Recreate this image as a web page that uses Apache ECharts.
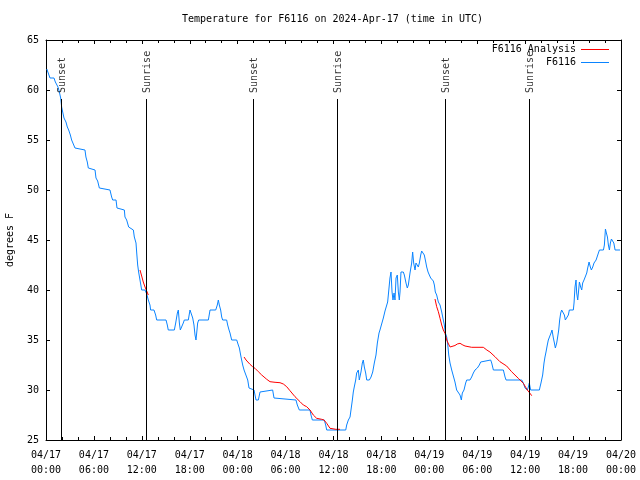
<!DOCTYPE html>
<html><head><meta charset="utf-8">
<script src="https://cdn.jsdelivr.net/npm/echarts@6/dist/echarts.min.js"></script>
<style>html,body{margin:0;padding:0;background:#fff}#c{width:640px;height:480px}</style>
</head><body><div id="c"></div>
<script>
// ---- data (hours since 2024-04-17 00:00 UTC) ----
const xTickLabels = ['04/17\n00:00','04/17\n06:00','04/17\n12:00','04/17\n18:00','04/18\n00:00','04/18\n06:00','04/18\n12:00','04/18\n18:00','04/19\n00:00','04/19\n06:00','04/19\n12:00','04/19\n18:00','04/20\n00:00'];

const blueHours = [0.1,0.5,1.0,1.17,1.38,1.5,1.67,1.84,1.96,2.09,2.25,2.5,2.67,2.84,3.05,3.21,3.46,3.63,3.76,4.88,5.0,5.17,5.3,6.14,6.26,6.47,6.68,6.8,8.01,8.22,8.35,8.77,8.89,9.81,9.89,10.1,10.35,10.52,10.94,11.06,11.27,11.36,11.48,11.6,11.77,11.98,12.4,12.61,12.81,13.02,13.1,13.52,13.73,13.86,15.03,15.19,15.31,16.07,16.24,16.45,16.57,16.7,16.82,17.03,17.19,17.32,17.82,18.03,18.24,18.37,18.53,18.66,18.78,18.87,18.99,19.12,20.33,20.54,21.25,21.45,21.58,21.7,21.87,22.0,22.12,22.62,22.75,22.92,23.04,23.25,23.88,24.08,24.21,24.42,24.63,24.8,25.05,25.26,25.42,25.54,26.05,26.17,26.3,26.59,26.8,26.92,28.38,28.55,28.68,31.3,31.47,31.72,33.06,33.18,33.35,34.85,35.02,35.15,37.53,37.65,37.86,38.07,38.19,38.36,38.48,38.6,38.78,38.9,39.11,39.23,39.44,39.61,39.73,39.86,40.03,40.16,40.49,40.7,40.91,41.11,41.32,41.49,41.7,41.82,42.04,42.24,42.45,42.66,42.78,42.95,43.07,43.2,43.33,43.45,43.58,43.7,43.83,43.99,44.12,44.24,44.33,44.45,44.62,44.74,44.87,45.08,45.24,45.37,45.58,45.79,45.91,46.04,46.21,46.33,46.49,46.62,46.75,46.92,47.04,47.25,47.37,47.55,47.67,47.84,48.0,48.17,48.3,48.5,48.63,48.75,48.92,49.13,49.34,49.55,49.75,49.88,50.01,50.18,50.3,50.43,50.59,50.8,51.01,51.21,51.42,51.63,51.84,52.01,52.13,52.34,52.55,52.68,53.09,53.3,53.51,53.72,54.01,54.26,54.43,54.68,55.68,55.81,56.02,57.27,57.48,57.61,59.57,59.77,59.98,60.11,60.27,60.4,60.52,60.61,60.69,61.78,61.86,61.98,62.19,62.36,62.48,62.61,62.77,62.9,63.11,63.24,63.36,63.53,63.66,63.78,63.95,64.07,64.2,64.32,64.45,64.57,64.78,64.91,65.03,65.24,65.41,65.53,66.03,66.12,66.24,66.37,66.45,66.58,66.7,66.79,66.95,67.08,67.2,67.37,67.54,67.71,67.83,68.0,68.16,68.29,68.46,68.62,68.88,69.09,69.17,69.3,69.8,69.92,70.05,70.17,70.3,70.42,70.55,70.67,70.8,70.97,71.1,71.26,71.88];
const blueTemps = [62.1,61.2,61.2,60.8,60.7,60.3,59.8,59.2,58.3,57.8,57.2,56.8,56.3,56.0,55.5,55.0,54.8,54.2,54.0,54.0,53.3,52.8,52.2,52.0,51.2,50.9,50.2,50.0,50.0,49.3,49.0,49.0,48.2,48.0,47.3,47.0,46.3,46.1,46.0,45.3,44.7,43.7,42.5,41.8,41.0,40.0,40.0,39.6,39.0,38.5,38.0,38.0,37.5,37.0,37.0,36.5,36.0,36.0,36.7,37.7,38.0,36.7,36.0,36.2,36.7,37.0,37.0,38.0,38.0,37.2,36.5,35.5,35.0,35.7,36.7,37.0,37.0,38.0,38.0,38.5,39.0,38.5,38.0,37.3,37.0,37.0,36.5,36.0,35.7,35.0,35.0,34.5,34.2,33.3,32.5,32.0,31.8,31.0,30.2,30.0,30.0,29.5,29.0,29.0,29.8,30.0,30.0,29.2,29.0,29.0,28.5,28.0,28.0,27.5,27.0,27.0,26.5,26.0,26.0,26.5,27.0,27.3,28.0,29.0,29.8,30.3,31.0,31.7,32.0,31.0,31.8,32.7,33.0,32.3,31.7,31.0,31.0,31.3,31.8,32.7,33.5,34.7,35.7,36.0,36.2,37.2,37.9,38.0,38.8,40.2,41.2,41.8,39.8,39.0,39.7,39.0,41.2,41.5,39.8,39.0,39.8,41.8,42.0,41.8,41.5,40.7,40.2,40.5,41.7,42.7,43.8,42.7,42.0,42.7,42.8,42.3,42.7,43.5,43.9,43.9,43.5,42.8,42.3,41.8,41.5,41.2,41.0,40.9,40.5,39.8,39.5,38.8,38.5,37.8,37.0,36.5,35.7,35.3,34.6,33.5,32.7,32.0,31.8,30.8,30.0,29.9,29.5,29.0,29.7,30.0,30.7,31.0,31.0,31.3,31.7,32.0,32.2,32.5,32.8,33.0,33.0,32.7,32.0,32.0,31.3,31.0,31.0,30.7,30.2,30.0,30.0,30.3,30.7,30.3,30.0,30.0,30.3,30.7,31.5,32.7,33.3,33.8,34.5,35.0,35.2,35.7,36.0,35.2,34.7,34.2,34.7,35.3,36.0,37.0,37.7,38.0,38.0,37.5,37.0,37.0,37.5,38.0,38.0,38.7,40.3,41.0,39.7,39.0,40.0,40.8,40.3,40.0,40.7,41.0,41.0,41.7,42.2,42.8,42.3,42.0,42.3,42.7,43.0,43.2,43.7,44.0,44.0,44.5,46.1,45.7,45.3,44.5,44.0,44.7,45.1,45.1,44.7,44.0,44.0];

// analysis series: null separates segments
const redHours = [11.77,11.98,12.18,12.4,12.61,12.81, 18.0, 24.8,25.05,25.3,25.54,25.87,26.17,26.59,27.01,27.64,28.05,28.68,29.3,29.72,30.14,30.55,31.18,31.81,32.22,32.64,33.06,33.47,33.89,34.52,34.81,35.15,35.56,35.69,36.3,36.81, 42.0, 48.71,48.92,49.13,49.34,49.55,49.75,49.96,50.18,50.4,50.6,50.8,51.21,51.5,51.84,52.2,52.47,53.3,54.76,55.2,55.59,56.22,56.84,57.68,58.3,59.14,59.77,60.27,60.61,60.82];
const redTemps = [42.0,41.4,40.8,40.3,39.9,39.5, null, 33.3,33.0,32.8,32.57,32.33,32.17,31.83,31.5,31.07,30.83,30.77,30.73,30.6,30.33,29.93,29.33,28.83,28.5,28.33,28.0,27.5,27.17,27.07,27.0,26.67,26.17,26.0,26.07,26.07, null, 39.1,38.33,37.83,37.17,36.5,36.0,35.67,35.0,34.6,34.3,34.27,34.45,34.6,34.67,34.5,34.4,34.27,34.27,34.0,33.8,33.33,32.83,32.4,31.83,31.17,30.67,30.0,29.67,29.43];

const sunHours = [1.93, 12.55, 25.95, 36.5, 49.97, 60.48];
const sunLabels = ['Sunset','Sunrise','Sunset','Sunrise','Sunset','Sunrise'];

const yMin = 25, yMax = 65, yStep = 5;
const xMin = 0, xMax = 72, xStep = 6;

// ---- chart ----
const FONT = 'DejaVu Sans Mono';
const SUN_LINE_TOP = 59.1;   // where the vertical lines stop
const SUN_LABEL_BASE = 59.7; // where the rotated labels start

const blueData = blueHours.map((h, i) => [h, blueTemps[i]]);
const redData = redHours.map((h, i) => [h, redTemps[i] === null ? '-' : redTemps[i]]);

const chart = echarts.init(document.getElementById('c'), null, {renderer: 'canvas'});

const axisCommon = {
  axisLine: {show: true, onZero: false, lineStyle: {color: '#000', width: 1}},
  splitLine: {show: false}
};

chart.setOption({
  animation: false,
  backgroundColor: '#fff',
  title: {
    text: 'Temperature for F6116 on 2024-Apr-17 (time in UTC)',
    left: 182, top: 14, padding: 0,
    textStyle: {fontFamily: FONT, fontSize: 10, fontWeight: 'normal', color: '#000'}
  },
  legend: {
    data: [
      {name: 'F6116 Analysis', icon: 'rect', itemStyle: {color: '#ff0000'}},
      {name: 'F6116', icon: 'rect', itemStyle: {color: '#0a84ff'}}
    ],
    orient: 'vertical', align: 'right',
    right: 31, top: 43, padding: 0,
    itemWidth: 28, itemHeight: 1, itemGap: 0,
    textStyle: {fontFamily: FONT, fontSize: 10, color: '#000', lineHeight: 13}
  },
  grid: {left: 46, right: 19, top: 40, bottom: 40, containLabel: false, outerBoundsMode: 'none'},
  xAxis: [
    Object.assign({}, axisCommon, {
      type: 'value', min: xMin, max: xMax, interval: xStep, position: 'bottom',
      axisTick: {show: true, inside: true, length: 4, lineStyle: {color: '#000'}},
      minorTick: {show: true, splitNumber: 3, length: 3, lineStyle: {color: '#000'}},
      axisLabel: {
        show: true, margin: 8, fontFamily: FONT, fontSize: 10, color: '#000', lineHeight: 15,
        showMinLabel: true, showMaxLabel: true, hideOverlap: false,
        formatter: v => xTickLabels[Math.round((v - xMin) / xStep)] || ''
      }
    }),
    Object.assign({}, axisCommon, {
      type: 'value', min: xMin, max: xMax, interval: xStep, position: 'top',
      axisTick: {show: true, inside: true, length: 4, lineStyle: {color: '#000'}},
      minorTick: {show: true, splitNumber: 3, length: 3, lineStyle: {color: '#000'}},
      axisLabel: {show: false}
    })
  ],
  yAxis: [
    Object.assign({}, axisCommon, {
      type: 'value', min: yMin, max: yMax, interval: yStep, position: 'left',
      name: 'degrees F', nameLocation: 'middle', nameGap: 31,
      nameTextStyle: {fontFamily: FONT, fontSize: 10, color: '#000'},
      axisTick: {show: true, inside: true, length: 4, lineStyle: {color: '#000'}},
      axisLabel: {show: true, margin: 7, fontFamily: FONT, fontSize: 10, color: '#000'}
    }),
    Object.assign({}, axisCommon, {
      type: 'value', min: yMin, max: yMax, interval: yStep, position: 'right',
      axisTick: {show: true, inside: true, length: 4, lineStyle: {color: '#000'}},
      axisLabel: {show: false}
    })
  ],
  series: [
    {
      name: 'F6116', type: 'line', data: blueData, symbol: 'none', showSymbol: false,
      xAxisIndex: 0, yAxisIndex: 0, z: 3,
      lineStyle: {color: '#0a84ff', width: 1}, itemStyle: {color: '#0a84ff'},
      markLine: {
        silent: true, symbol: ['none', 'none'], animation: false,
        label: {show: false},
        lineStyle: {color: '#000', width: 1, type: 'solid'},
        emphasis: {disabled: true},
        data: sunHours.map(h => [{coord: [h, yMin]}, {coord: [h, SUN_LINE_TOP]}])
      }
    },
    {
      name: 'F6116 Analysis', type: 'line', data: redData, symbol: 'none', showSymbol: false,
      connectNulls: false, xAxisIndex: 0, yAxisIndex: 0, z: 4,
      lineStyle: {color: '#ff0000', width: 1}, itemStyle: {color: '#ff0000'}
    },
    {
      name: 'sun labels', type: 'scatter', xAxisIndex: 0, yAxisIndex: 0,
      symbolSize: 0.01, itemStyle: {color: 'rgba(0,0,0,0)'}, silent: true, z: 5,
      data: sunHours.map((h, i) => ({value: [h, SUN_LABEL_BASE], name: sunLabels[i]})),
      label: {
        show: true, formatter: '{b}', position: [1, 0], rotate: 90,
        align: 'left', verticalAlign: 'middle',
        fontFamily: FONT, fontSize: 10, color: '#000'
      }
    }
  ]
});
</script>
</body></html>
